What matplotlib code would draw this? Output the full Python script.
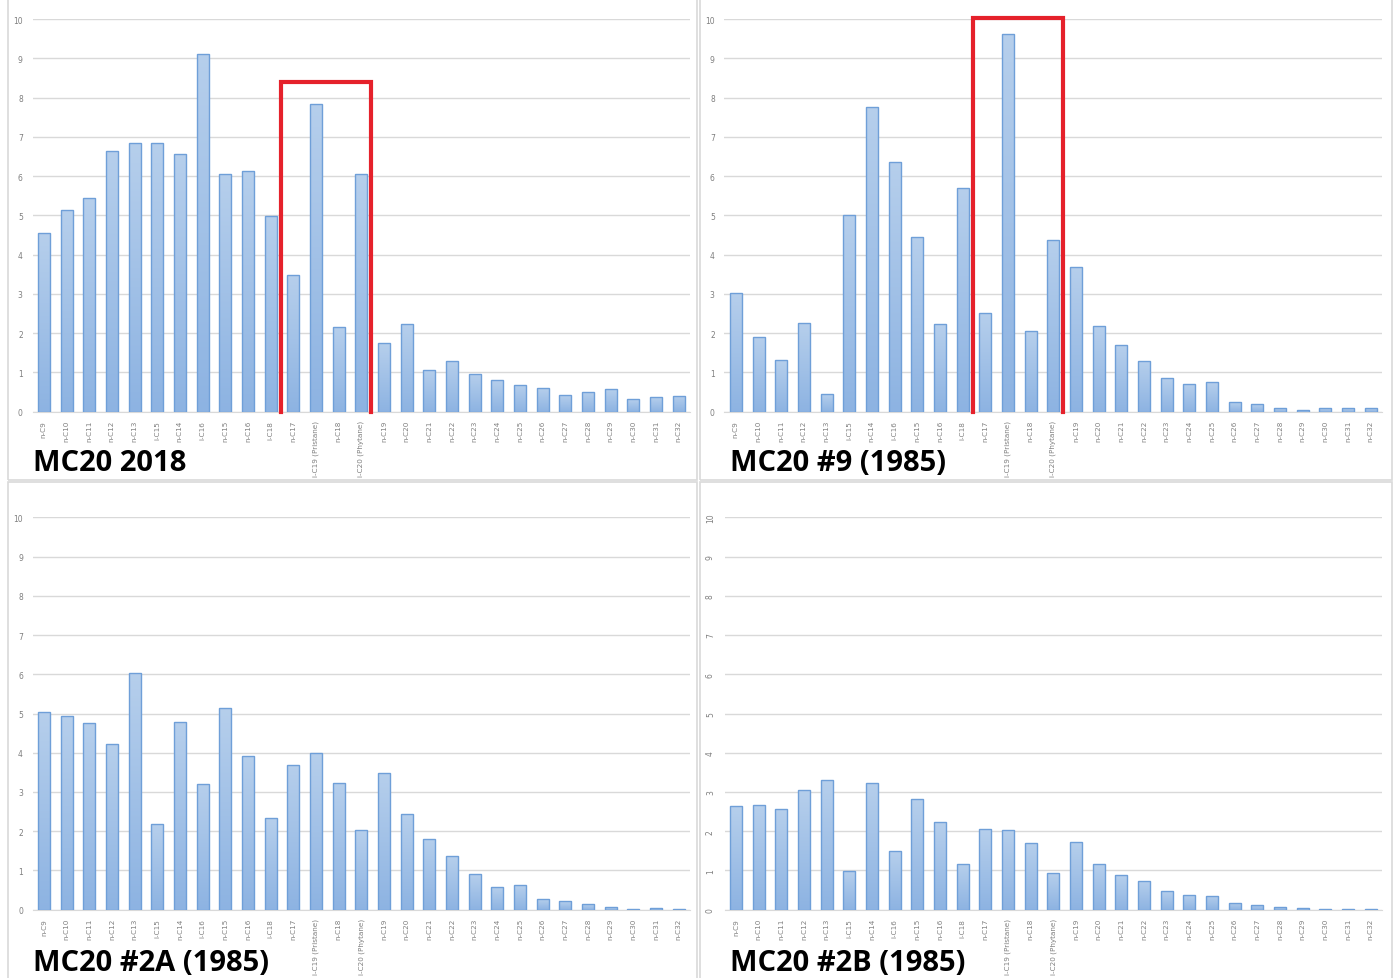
import numpy as np
import matplotlib
matplotlib.use("Agg")
import matplotlib.pyplot as plt
from matplotlib.patches import Rectangle
from matplotlib.colors import LinearSegmentedColormap

# 化合物名称（横轴）
categories = ["n-C9", "n-C10", "n-C11", "n-C12", "n-C13", "i-C15", "n-C14", "i-C16",
              "n-C15", "n-C16", "i-C18", "n-C17", "i-C19 (Pristane)", "n-C18",
              "i-C20 (Phytane)", "n-C19", "n-C20", "n-C21", "n-C22", "n-C23", "n-C24",
              "n-C25", "n-C26", "n-C27", "n-C28", "n-C29", "n-C30", "n-C31", "n-C32"]

# 各样品数值
mc20_2018 = [4.54, 5.13, 5.45, 6.65, 6.83, 6.83, 6.55, 9.12, 6.04, 6.14, 4.97, 3.47, 7.83,
             2.15, 6.04, 1.74, 2.24, 1.07, 1.30, 0.97, 0.80, 0.69, 0.59, 0.42, 0.49, 0.58,
             0.33, 0.38, 0.41]
mc20_9 = [3.03, 1.91, 1.31, 2.26, 0.44, 5.02, 7.77, 6.37, 4.46, 2.22, 5.70, 2.51, 9.62,
          2.06, 4.36, 3.68, 2.17, 1.69, 1.30, 0.86, 0.71, 0.75, 0.25, 0.19, 0.08, 0.04,
          0.08, 0.08, 0.08]
mc20_2a = [5.03, 4.93, 4.75, 4.21, 6.04, 2.19, 4.79, 3.20, 5.13, 3.91, 2.34, 3.70, 4.00,
           3.22, 2.02, 3.48, 2.43, 1.81, 1.37, 0.91, 0.57, 0.63, 0.27, 0.22, 0.14, 0.06,
           0.02, 0.04, 0.02]
mc20_2b = [2.64, 2.67, 2.57, 3.04, 3.31, 0.98, 3.22, 1.50, 2.81, 2.24, 1.17, 2.06, 2.02,
           1.69, 0.93, 1.72, 1.17, 0.89, 0.74, 0.48, 0.38, 0.36, 0.18, 0.13, 0.08, 0.05,
           0.02, 0.02, 0.02]

titles = ["MC20 2018", "MC20 #9 (1985)", "MC20 #2A (1985)", "MC20 #2B (1985)"]
# 红框上沿（None 表示不画）
box_tops = [8.39, 10.03, None, None]

W, H = 1397, 979
fig = plt.figure(figsize=(W / 100, H / 100), dpi=100)

# 柱子渐变色：上浅下深
grad_cmap = LinearSegmentedColormap.from_list("bar", ["#8db3e2", "#b6cfec"])
grad = np.linspace(0, 1, 256).reshape(-1, 1)


def px_rect(x0, y0, x1, y1):
    # 像素坐标 (左上原点) -> figure 坐标
    return [x0 / W, 1 - y1 / H, (x1 - x0) / W, (y1 - y0) / H]


# 面板边框
for (x0, y0, x1, y1) in [(8, -2, 697, 481), (700, -2, 1392, 481),
                         (8, 483, 697, 981), (700, 483, 1392, 981)]:
    fig.add_artist(Rectangle((x0 / W, 1 - y1 / H), (x1 - x0) / W, (y1 - y0) / H,
                             transform=fig.transFigure, fill=False,
                             edgecolor="#d9d9d9", lw=1.2))

# 各绘图区 (像素)
areas = [(32.5, 20, 690, 412.6), (724.5, 20, 1382, 412.6),
         (32.7, 518.3, 690, 910.7), (724.7, 518.3, 1382, 910.7)]
title_pos = [(33, 471), (730, 471), (33, 971), (730, 971)]
series = [mc20_2018, mc20_9, mc20_2a, mc20_2b]

x = np.arange(len(categories))
for i in range(4):
    ax = fig.add_axes(px_rect(*areas[i]))
    bars = ax.bar(x, series[i], width=0.53, color="none", edgecolor="#6f9fd8",
                  linewidth=1, zorder=4)
    for b in bars:
        bx, bw, bh = b.get_x(), b.get_width(), b.get_height()
        im = ax.imshow(grad, cmap=grad_cmap, origin="lower", aspect="auto",
                       extent=[bx, bx + bw, 0, bh], zorder=3)
        im.set_clip_path(b)
    ax.set_xlim(-0.5, len(categories) - 0.5)
    ax.set_ylim(0, 10)
    ax.set_yticks(range(0, 11))
    ax.set_xticks(x)
    ax.set_xticklabels(categories, rotation=90, fontsize=5.2, color="#7f7f7f")
    ax.tick_params(axis="x", length=0, pad=6, labelsize=5.2, labelcolor="#7f7f7f")
    ax.tick_params(axis="y", length=0, pad=7, labelsize=5.5, labelcolor="#7f7f7f")
    if i == 3:
        for lab in ax.get_yticklabels():
            lab.set_rotation(90)
            lab.set_va("center")
    ax.grid(axis="y", color="#d9d9d9", lw=1, zorder=0)
    for s in ["top", "right", "left"]:
        ax.spines[s].set_visible(False)
    ax.spines["bottom"].set_color("#d9d9d9")

    if box_tops[i] is not None:
        t = box_tops[i]
        ax.plot([10.45, 10.45, 14.45, 14.45], [0, t, t, 0], color="#e5212b", lw=3,
                clip_on=False, zorder=5, solid_joinstyle="miter")

    tx, ty = title_pos[i]
    fig.text(tx / W, 1 - ty / H, titles[i], fontsize=21, fontweight="bold",
             family="Open Sans", color="black", ha="left", va="baseline")

fig.savefig("out.png", dpi=100)
